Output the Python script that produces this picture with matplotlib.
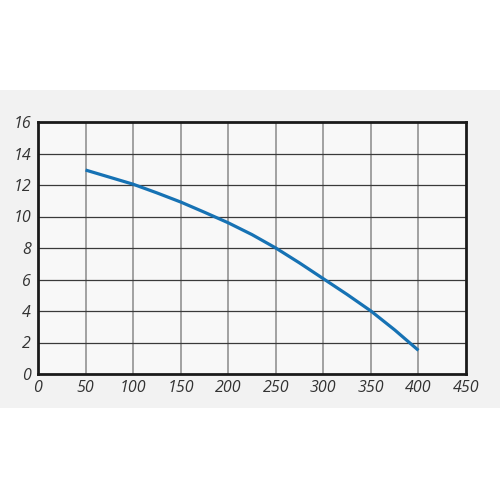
import matplotlib
matplotlib.use("Agg")
import matplotlib.pyplot as plt
from matplotlib.patches import Rectangle

# Curve
flow = [50, 75, 100, 125, 150, 175, 200, 225, 250, 275, 300, 325, 350, 375, 400]
head = [12.95, 12.5, 12.05, 11.5, 10.92, 10.27, 9.6, 8.85, 8.0, 7.05, 6.05, 5.05, 4.0, 2.8, 1.5]

x_ticks = [0, 50, 100, 150, 200, 250, 300, 350, 400, 450]
y_ticks = [0, 2, 4, 6, 8, 10, 12, 14, 16]

fig = plt.figure(figsize=(5, 5), dpi=100, facecolor="white")
band = Rectangle((0, 0.184), 1, 0.636, transform=fig.transFigure,
                 facecolor="#f2f2f2", edgecolor="none", zorder=-10)
fig.add_artist(band)

ax = fig.add_axes([0.076, 0.252, 0.856, 0.504])
ax.set_facecolor("#f8f8f8")
ax.set_zorder(1)

ax.plot(flow, head, color="#1672b4", lw=2.3, solid_capstyle="butt",
        solid_joinstyle="round", zorder=3)

ax.set_xlim(0, 450)
ax.set_ylim(0, 16)
ax.set_xticks(x_ticks)
ax.set_yticks(y_ticks)

for x in x_ticks[1:-1]:
    ax.axvline(x, color="#8a8a8a", lw=1.1, zorder=1)
for y in y_ticks[1:-1]:
    ax.axhline(y, color="#3a3a3a", lw=0.9, zorder=1)

for s in ax.spines.values():
    s.set_linewidth(2)
    s.set_color("#1a1a1a")

ax.tick_params(length=0, pad=4, labelsize=11.5, labelcolor="#333333")
for lab in ax.get_xticklabels() + ax.get_yticklabels():
    lab.set_fontstyle("italic")
    lab.set_fontfamily("Open Sans")
ax.tick_params(axis="y", pad=5)

fig.savefig("out.png", dpi=100)
